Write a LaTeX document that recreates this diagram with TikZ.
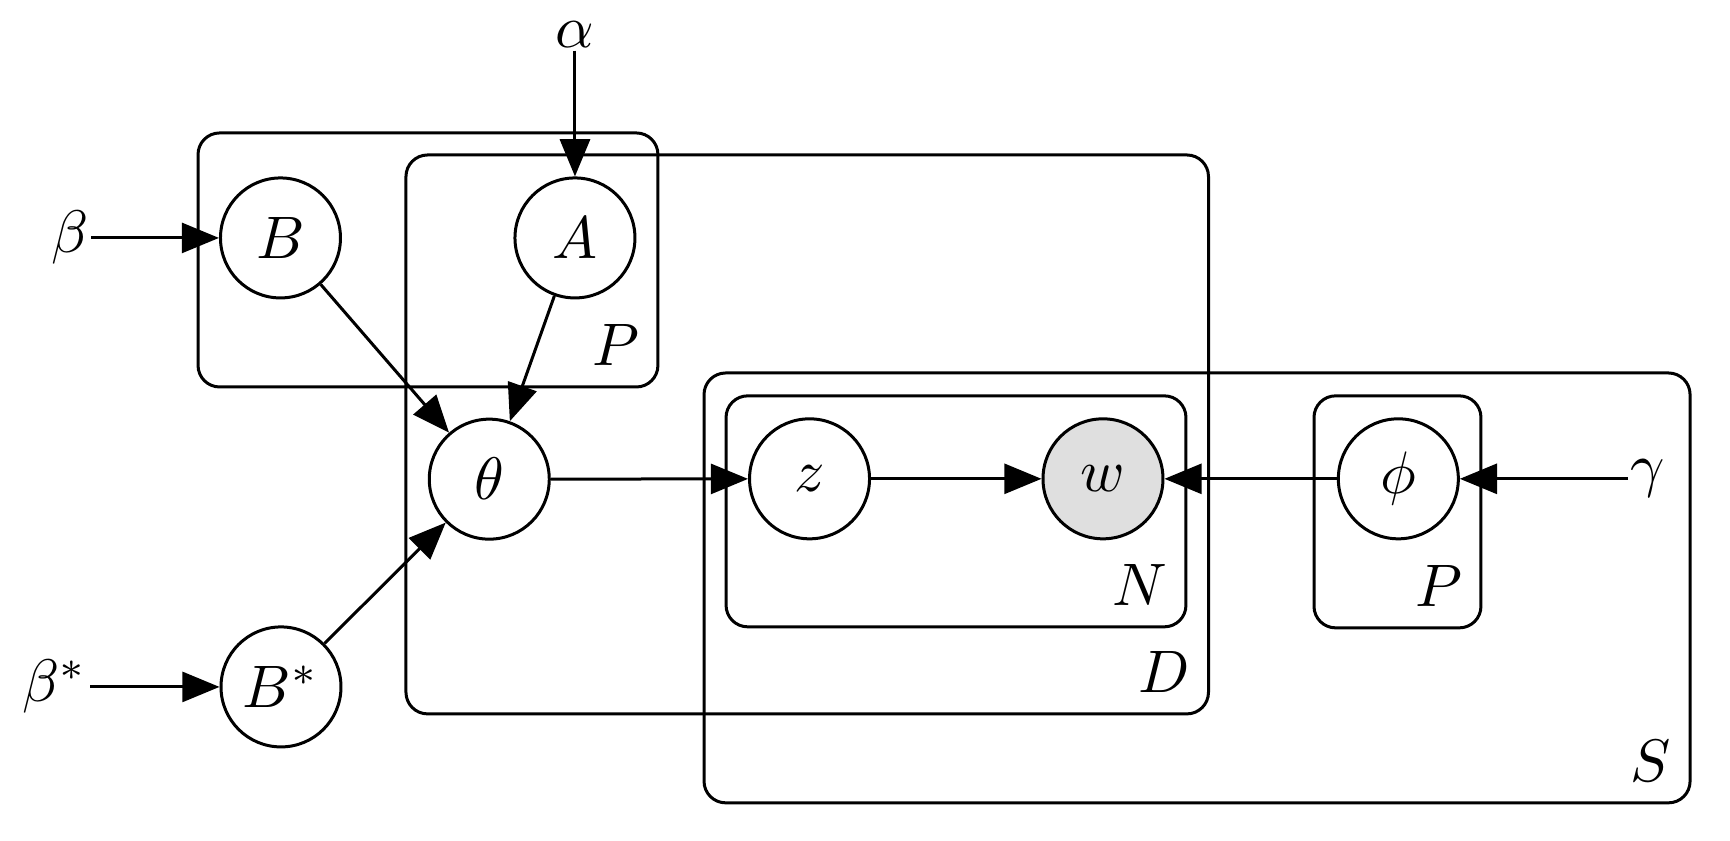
\documentclass[tikz,border=0pt]{standalone}
\usepackage{amsmath,amssymb}
\usepackage{tikz}
\usetikzlibrary{arrows.meta}
\tikzset{
    latent/.style={circle,draw,fill=white,minimum size=20pt,inner sep=0pt},
    obs/.style={latent,fill=gray!25},
    const/.style={inner sep=0.2pt},
    plate/.style={draw,rounded corners=3.6pt},
    platelabel/.style={anchor=base east,inner sep=0pt,xshift=-2.9pt,yshift=3.5pt},
    edge/.style={-{Triangle[length=6.2pt,width=5pt]}}
}

\begin{document}
\begin{tikzpicture}[line width=0.5pt]
    \useasboundingbox (0,0) rectangle (10.134,4.926);
    % plates
    \draw[plate] (1.160,4.147) rectangle (3.854,2.659);
    \node[platelabel] (lP1) at (3.854,2.659) {$P$};
    \draw[plate] (2.378,4.018) rectangle (7.079,0.744);
    \node[platelabel] (lD) at (7.079,0.744) {$D$};
    \draw[plate] (4.124,2.741) rectangle (9.900,0.223);
    \node[platelabel] (lS) at (9.900,0.223) {$S$};
    \draw[plate] (4.253,2.607) rectangle (6.947,1.254);
    \node[platelabel] (lN) at (6.947,1.254) {$N$};
    \draw[plate] (7.697,2.607) rectangle (8.675,1.248);
    \node[platelabel] (lP2) at (8.675,1.248) {$P$};
    % nodes
    \node[latent] (B) at (1.643,3.532) {$B$};
    \node[latent] (A) at (3.368,3.532) {$A$};
    \node[latent] (theta) at (2.866,2.119) {$\theta$};
    \node[latent] (Bs) at (1.646,0.902) {$B^*$};
    \node[latent] (z) at (4.742,2.121) {$z$};
    \node[obs] (w) at (6.461,2.121) {$w$};
    \node[latent] (phi) at (8.191,2.121) {$\phi$};
    \node[const] (beta) at (0.410,3.532) {$\beta$};
    \node[const] (betas) at (0.322,0.902) {$\beta^*$};
    \node[const] (alpha) at (3.368,4.721) {$\alpha$};
    \node[const] (gamma) at (9.654,2.121) {$\gamma$};
    % edges
    \draw[edge] (beta) -- (B);
    \draw[edge] (betas) -- (Bs);
    \draw[edge] (alpha) -- (A);
    \draw[edge] (B) -- (theta);
    \draw[edge] (A) -- (theta);
    \draw[edge] (Bs) -- (theta);
    \draw[edge] (theta) -- (z);
    \draw[edge] (z) -- (w);
    \draw[edge] (phi) -- (w);
    \draw[edge] (gamma) -- (phi);
\end{tikzpicture}
\end{document}
